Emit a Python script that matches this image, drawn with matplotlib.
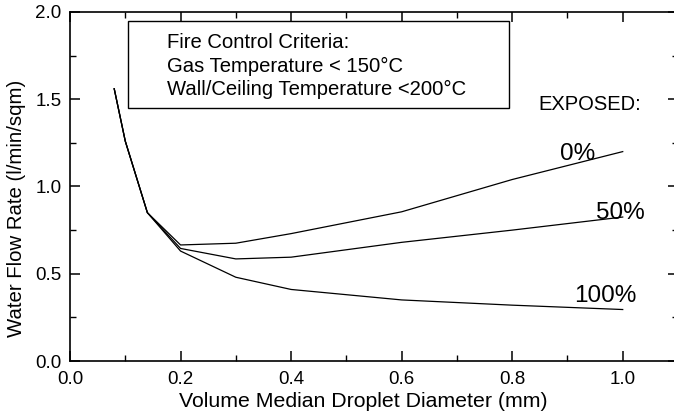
import matplotlib
matplotlib.use("Agg")
import matplotlib.pyplot as plt
from matplotlib.ticker import MultipleLocator, FormatStrFormatter

plt.rcParams['font.family'] = ['Liberation Sans', 'DejaVu Sans']

# droplet diameter (mm)
diameter = [0.08, 0.10, 0.14, 0.20, 0.30, 0.40, 0.60, 0.80, 1.00]
# water flow rate (l/min/sqm) by exposed fraction
flow_0 = [1.56, 1.26, 0.85, 0.665, 0.675, 0.73, 0.855, 1.04, 1.20]
flow_50 = [1.56, 1.26, 0.85, 0.645, 0.585, 0.595, 0.68, 0.75, 0.825]
flow_100 = [1.56, 1.26, 0.85, 0.63, 0.48, 0.41, 0.35, 0.32, 0.295]
series_labels = ["0%", "50%", "100%"]
label_pos = [(0.918, 1.15), (0.996, 0.814), (0.969, 0.338)]

criteria = ["Fire Control Criteria:",
            "Gas Temperature < 150\u00b0C",
            "Wall/Ceiling Temperature <200\u00b0C"]

fig = plt.figure(figsize=(6.74, 4.15), dpi=100)
ax = fig.add_axes([70 / 674, 54 / 415, 608 / 674, 349 / 415])

for ys in (flow_0, flow_50, flow_100):
    ax.plot(diameter, ys, color="black", lw=0.9)

for lab, (x, y) in zip(series_labels, label_pos):
    ax.text(x, y, lab, fontsize=17.5, ha="center", va="baseline")
ax.text(0.94, 1.438, "EXPOSED:", fontsize=14.5, ha="center", va="baseline")

ax.set_xlim(0, 1.1)
ax.set_ylim(0, 2.0)
ax.xaxis.set_major_locator(MultipleLocator(0.2))
ax.xaxis.set_minor_locator(MultipleLocator(0.1))
ax.yaxis.set_major_locator(MultipleLocator(0.5))
ax.yaxis.set_minor_locator(MultipleLocator(0.25))
ax.xaxis.set_major_formatter(FormatStrFormatter("%.1f"))
ax.yaxis.set_major_formatter(FormatStrFormatter("%.1f"))
ax.tick_params(which="both", direction="in", top=True, right=True, labelsize=13.5)
ax.tick_params(which="major", length=7, width=1.1)
ax.tick_params(which="minor", length=4, width=1.0)
ax.tick_params(axis="y", pad=6)
ax.tick_params(axis="x", pad=7)
for s in ax.spines.values():
    s.set_linewidth(1.2)

ax.set_xlabel("Volume Median Droplet Diameter (mm)", fontsize=15.3, va="center")
ax.set_ylabel("Water Flow Rate (l/min/sqm)", fontsize=14.7, va="center")
ax.xaxis.set_label_coords(0.482, -0.117)
ax.yaxis.set_label_coords(-0.088, 0.438)

# criteria box
box = plt.Rectangle((128 / 674, (415 - 108) / 415), 381 / 674, 87 / 415,
                    transform=fig.transFigure, fill=False, lw=1.0, color="black")
fig.patches.append(box)
for i, line in enumerate(criteria):
    fig.text(167 / 674, (415 - 43 - 23 * i) / 415, line, fontsize=14.6, va="center")

fig.savefig("out.png", dpi=100)
